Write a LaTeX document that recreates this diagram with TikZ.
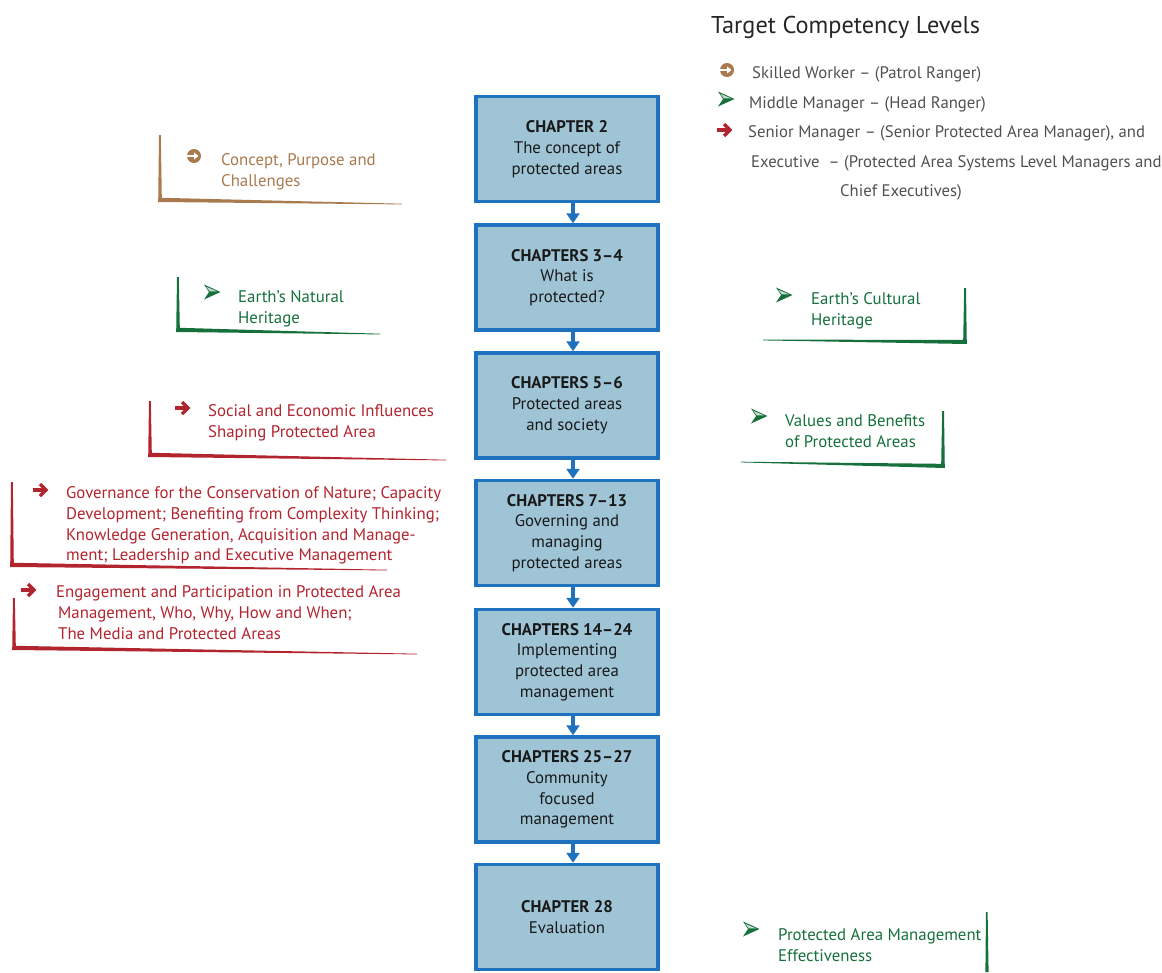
\documentclass[tikz,border=0pt]{standalone}
\usepackage{fontspec}
\setmainfont{PT Sans}
\usetikzlibrary{arrows.meta}
\definecolor{boxfill}{RGB}{158,196,214}
\definecolor{boxline}{RGB}{31,114,189}
\definecolor{cbrown}{RGB}{168,122,78}
\definecolor{cgreen}{RGB}{22,112,60}
\definecolor{cred}{RGB}{178,36,46}
\definecolor{cgray}{RGB}{80,80,80}
\newcommand\calloutL[6]{\fill[#1] ({#2-1},{#3}) -- ({#2+0.8},{#3}) -- ({#2+1.8},{#4-2.2}) -- ({#5},{#4+#6-0.3}) -- ({#5},{#4+#6+0.4}) -- ({#2-1.8},{#4+2}) -- cycle;}
\newcommand\calloutR[6]{\fill[#1] ({#2-0.8},{#3}) -- ({#2+1},{#3}) -- ({#2+1.8},{#4+2}) -- ({#5},{#6+0.4}) -- ({#5},{#6-0.3}) -- ({#2-1.8},{#4-2.2}) -- cycle;}
\newcommand\brownicon[2]{\fill[cbrown] (#1,#2) circle[radius=7pt];
  \draw[white, line width=2.4pt, -{Triangle[width=7pt,length=4.5pt]}] ({#1-8.5},#2) -- ({#1+4.5},#2);}
\newcommand\greenicon[2]{\begin{scope}[shift={(#1,#2)}]
  \fill[cgreen] (-8,-7.5) -- (8.5,0) -- (-8,7.5) -- (-3,0) -- cycle;
  \fill[cgreen!25] (-5.8,-5.2) -- (5.2,-0.6) -- (-2.2,-0.6) -- cycle;
  \end{scope}}
\newcommand\redicon[2]{\begin{scope}[shift={(#1,#2)}]
  \draw[cred, line width=3.3pt] (-7,0) -- (5,0);
  \draw[cred, line width=3.3pt, miter limit=4] (0,-6) -- (6,0) -- (0,6);
  \end{scope}}
\tikzset{
  chap/.style={draw=boxline, fill=boxfill, line width=3.5pt, minimum width=182pt, minimum height=105pt,
    align=center, text=black!90, font=\fontsize{16.8}{20.8}\selectfont, inner sep=2pt},
  flow/.style={draw=boxline, line width=4pt, -{Triangle[width=13pt,length=10pt]}},
  ctext/.style={anchor=north west, inner sep=0pt, align=left, font=\fontsize{16.8}{20.7}\selectfont},
  legtext/.style={anchor=base west, inner sep=0pt, text=cgray, font=\fontsize{16.7}{19}\selectfont},
}
\begin{document}
\begin{tikzpicture}[x=1pt,y=-1pt]
\useasboundingbox (0,0) rectangle (1162,972);
% chapter boxes
\node[chap] (c1) at (567,149) {\textbf{CHAPTER 2}\\The concept of\\protected areas};
\node[chap] (c2) at (567,277.5) {\textbf{CHAPTERS 3–4}\\What is\\protected?};
\node[chap] (c3) at (567,405.5) {\textbf{CHAPTERS 5–6}\\Protected areas\\and society};
\node[chap] (c4) at (567,533) {\textbf{CHAPTERS 7–13}\\Governing and\\managing\\protected areas};
\node[chap] (c5) at (567,662) {\textbf{CHAPTERS 14–24}\\Implementing\\protected area\\management};
\node[chap] (c6) at (567,789.5) {\textbf{CHAPTERS 25–27}\\Community\\focused\\management};
\node[chap] (c7) at (567,917) {\textbf{CHAPTER 28}\\Evaluation};
\draw[flow] ([xshift=6pt]c1.south) -- ([xshift=6pt]c2.north);
\draw[flow] ([xshift=6pt]c2.south) -- ([xshift=6pt]c3.north);
\draw[flow] ([xshift=6pt]c3.south) -- ([xshift=6pt]c4.north);
\draw[flow] ([xshift=6pt]c4.south) -- ([xshift=6pt]c5.north);
\draw[flow] ([xshift=6pt]c5.south) -- ([xshift=6pt]c6.north);
\draw[flow] ([xshift=6pt]c6.south) -- ([xshift=6pt]c7.north);
% legend
\node[anchor=base west, inner sep=0pt, text=black!85, font=\fontsize{24.3}{28}\selectfont] (title) at (711,33.5) {Target Competency Levels};
\brownicon{727}{70}
\node[legtext] (l1) at (752,78) {Skilled Worker – (Patrol Ranger)};
\greenicon{726}{99}
\node[legtext] (l2) at (749,108) {Middle Manager – (Head Ranger)};
\redicon{724}{130}
\node[legtext] (l3) at (748,137) {Senior Manager – (Senior Protected Area Manager), and};
\node[legtext] (l4) at (751,167) {Executive \ – (Protected Area Systems Level Managers and};
\node[legtext] (l5) at (840,196) {Chief Executives)};
% callouts
\calloutL{cbrown}{160}{135}{200}{402}{4}
\brownicon{194}{156}
\node[ctext, text=cbrown] (t1) at (221,153.5) {Concept, Purpose and\\Challenges};
\calloutL{cgreen}{178}{277}{330}{380}{4}
\greenicon{212}{292}
\node[ctext, text=cgreen] (t2) at (238,290.5) {Earth’s Natural\\Heritage};
\calloutR{cgreen}{965}{288}{342}{763}{340}
\greenicon{784}{295}
\node[ctext, text=cgreen] (t3) at (811,292.5) {Earth’s Cultural\\Heritage};
\calloutL{cred}{150}{401}{455}{446}{5}
\redicon{182}{408}
\node[ctext, text=cred] (t4) at (208,404.5) {Social and Economic Influences\\Shaping Protected Area};
\calloutR{cgreen}{943}{411}{466}{741}{462}
\greenicon{759}{416}
\node[ctext, text=cgreen] (t5) at (785,414.5) {Values and Benefits\\of Protected Areas};
\calloutL{cred}{12}{482}{565}{387}{5}
\redicon{40}{490}
\node[ctext, text=cred] (t6) at (66,486.5) {Governance for the Conservation of Nature; Capacity\\Development; Benefiting from Complexity Thinking;\\Knowledge Generation, Acquisition and Manage-\\ment; Leadership and Executive Management};
\calloutL{cred}{14}{598}{648}{417}{6}
\redicon{28}{590}
\node[ctext, text=cred] (t7) at (56,585.5) {Engagement and Participation in Protected Area\\\hspace*{2pt}Management, Who, Why, How and When;\\\hspace*{2pt}The Media and Protected Areas};
\fill[cgreen] (986,912) -- (987.6,912) -- (988.6,972) -- (985.4,972) -- cycle;
\greenicon{751}{929}
\node[ctext, text=cgreen] (t8) at (778,928.5) {Protected Area Management\\Effectiveness};
\end{tikzpicture}
\end{document}
